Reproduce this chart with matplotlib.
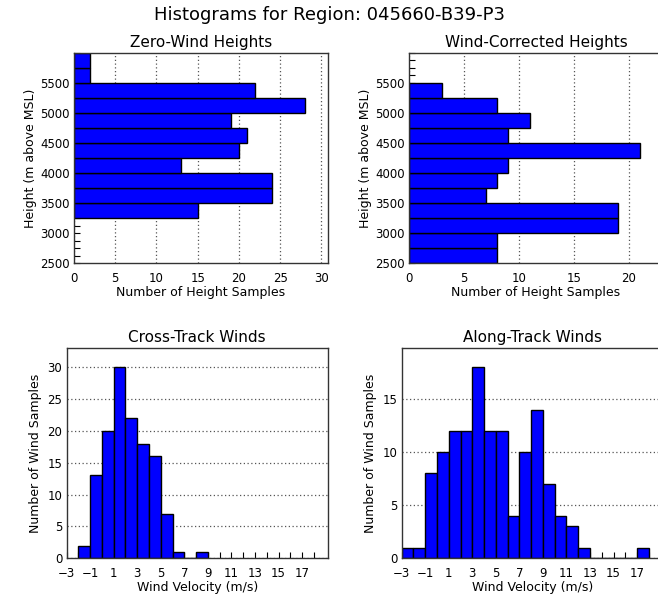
import matplotlib
matplotlib.use("Agg")
import matplotlib.pyplot as plt
import numpy as np

# ---- data ----
height_bin_width = 250
zero_wind_edges = [3250, 3500, 3750, 4000, 4250, 4500, 4750, 5000, 5250, 5500, 5750]
zero_wind_counts = [15, 24, 24, 13, 20, 21, 19, 28, 22, 2, 2]

wind_corr_edges = [2500, 2750, 3000, 3250, 3500, 3750, 4000, 4250, 4500, 4750, 5000, 5250]
wind_corr_counts = [8, 8, 19, 19, 7, 8, 9, 21, 9, 11, 8, 3]

cross_edges = [-2, -1, 0, 1, 2, 3, 4, 5, 6, 7, 8]
cross_counts = [2, 13, 20, 30, 22, 18, 16, 7, 1, 0, 1]

along_edges = [-3, -2, -1, 0, 1, 2, 3, 4, 5, 6, 7, 8, 9, 10, 11, 12, 13, 14, 15, 16, 17]
along_counts = [1, 1, 8, 10, 12, 12, 18, 12, 12, 4, 10, 14, 7, 4, 3, 1, 0, 0, 0, 0, 1]

height_ticks = [2500, 3000, 3500, 4000, 4500, 5000, 5500]
wind_ticks = [-3, -1, 1, 3, 5, 7, 9, 11, 13, 15, 17]

title = "Histograms for Region: 045660-B39-P3"

# ---- style ----
plt.rcParams['font.family'] = ['DejaVu Sans']
BLUE = (0, 0, 1)
W, H = 658, 599
fig = plt.figure(figsize=(W / 100, H / 100), dpi=100)


def ax_at(x0, y0, x1, y1):
    return fig.add_axes([x0 / W, 1 - y1 / H, (x1 - x0) / W, (y1 - y0) / H])


def style(ax):
    for s in ax.spines.values():
        s.set_color('#333333')
        s.set_linewidth(1.0)
    ax.tick_params(direction='in', length=4, width=0.8, labelsize=8.5,
                   top=False, right=False, color='black')
    ax.tick_params(which='minor', direction='in', length=4, width=0.8,
                   top=False, right=False)
    ax.set_axisbelow(True)


gridkw = dict(color='#555555', linestyle=(0, (1, 2)), linewidth=0.9)


def height_panel(ax, edges, counts, ttl):
    ax.barh(edges, counts, height=height_bin_width, align='edge',
            color=BLUE, edgecolor='black', linewidth=1.0)
    mx = max(counts) * 1.1
    ax.set_xlim(0, mx)
    ax.set_ylim(2500, 6000)
    ax.set_yticks(height_ticks)
    ax.set_yticks(np.arange(2500, 6001, 125), minor=True)
    ax.set_xticks(np.arange(0, mx, 5))
    ax.xaxis.grid(True, **gridkw)
    style(ax)
    ax.tick_params(axis='x', pad=6, bottom=False)
    ax.tick_params(axis='y', pad=3)
    ax.set_title(ttl, fontsize=11, pad=4)
    ax.set_xlabel("Number of Height Samples", fontsize=9, labelpad=1)
    ax.set_ylabel("Height (m above MSL)", fontsize=9, labelpad=2)


def wind_panel(ax, edges, counts, ttl, ystep):
    ax.bar(edges, counts, width=1, align='edge',
           color=BLUE, edgecolor='black', linewidth=1.0)
    ax.set_xlim(-3, 19.2)
    ax.set_ylim(0, max(counts) * 1.1)
    ax.set_xticks(wind_ticks)
    ax.set_xticks(np.arange(-3, 19, 1), minor=True)
    ax.set_yticks(np.arange(0, max(counts) * 1.1, ystep))
    ax.yaxis.grid(True, **gridkw)
    style(ax)
    ax.tick_params(axis='x', pad=6)
    ax.tick_params(axis='y', pad=3, left=False)
    ax.set_title(ttl, fontsize=11, pad=4)
    ax.set_xlabel("Wind Velocity (m/s)", fontsize=9, labelpad=1)
    ax.set_ylabel("Number of Wind Samples", fontsize=9, labelpad=4)


ax1 = ax_at(74, 52.7, 328, 263.3)
height_panel(ax1, zero_wind_edges, zero_wind_counts, "Zero-Wind Heights")
ax2 = ax_at(409, 52.7, 663, 263.3)
height_panel(ax2, wind_corr_edges, wind_corr_counts, "Wind-Corrected Heights")
ax3 = ax_at(66.5, 348, 328, 558.3)
wind_panel(ax3, cross_edges, cross_counts, "Cross-Track Winds", 5)
ax4 = ax_at(401.7, 348, 663, 558.3)
wind_panel(ax4, along_edges, along_counts, "Along-Track Winds", 5)

fig.text(0.5, 1 - 15 / H, title, ha='center', va='center', fontsize=13)

fig.savefig("out.png", dpi=100)
